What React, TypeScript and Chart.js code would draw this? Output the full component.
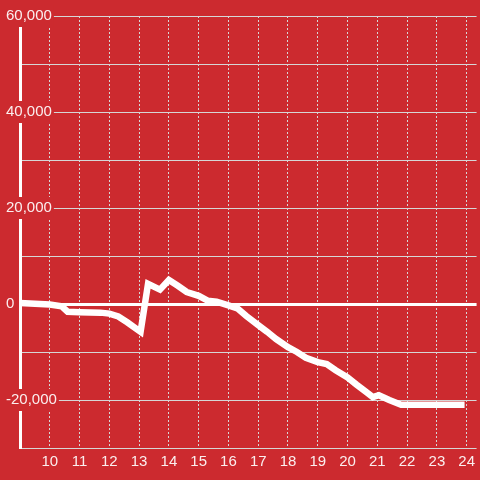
import React, { useEffect, useRef } from "react";
import { Chart, registerables } from "chart.js";

Chart.register(...registerables);

const times = [9.0, 10.0, 10.4, 10.6, 11.0, 11.7, 12.0, 12.3, 12.6, 13.05, 13.3, 13.7, 14.0, 14.3, 14.6, 15.0, 15.3, 15.6, 16.0, 16.3, 16.6, 17.0, 17.3, 17.6, 18.0, 18.3, 18.6, 19.0, 19.3, 19.6, 20.0, 20.3, 20.6, 20.85, 21.05, 21.4, 21.8, 23.93];
const values = [200, -100, -500, -1600, -1700, -1800, -2000, -2600, -3800, -5800, 4200, 3000, 5000, 3800, 2500, 1700, 700, 500, -300, -900, -2500, -4400, -5800, -7300, -9000, -10000, -11200, -12100, -12500, -13800, -15300, -16800, -18200, -19400, -19000, -20000, -21000, -21000];

const xMin = 9;
const xMax = 24.333;
const yMin = -30000;
const yMax = 60000;
const yLabelStep = 20000;

const BG = "#cc2a2f";
const GRID = "#d6d6d6";
const TEXT = "rgba(255,255,255,0.92)";

export default function App() {
  const ref = useRef<HTMLCanvasElement>(null);
  useEffect(() => {
    if (!ref.current) return;
    const chart = new Chart(ref.current, {
      type: "line",
      data: {
        datasets: [
          {
            data: times.map((t, i) => ({ x: t, y: values[i] })),
            borderColor: "#ffffff",
            borderWidth: 6.5,
            pointRadius: 0,
            tension: 0,
            fill: false,
          },
        ],
      },
      options: {
        responsive: false,
        animation: false,
        layout: { padding: { top: 16, left: 0, right: 0, bottom: 0 } },
        plugins: { legend: { display: false }, tooltip: { enabled: false } },
        scales: {
          x: {
            type: "linear",
            position: "bottom",
            min: xMin,
            max: xMax,
            afterFit: (s: any) => {
              s.height = 32;
            },
            border: { display: false, dash: [2, 2] },
            grid: {
              color: GRID,
              lineWidth: 1,
              drawTicks: false,
            },
            ticks: {
              stepSize: 1,
              includeBounds: false,
              autoSkip: false,
              maxRotation: 0,
              padding: 5,
              color: TEXT,
              font: { family: "'Liberation Sans', Arial, sans-serif", size: 15 },
              callback: (v: any) => (v === xMin ? "" : String(v)),
            },
          },
          y: {
            type: "linear",
            position: "left",
            min: yMin,
            max: yMax,
            afterFit: (s: any) => {
              s.width = 20;
            },
            border: { display: true, color: "#ffffff", width: 3 },
            grid: {
              drawTicks: false,
              color: (ctx: any) => (ctx.tick && ctx.tick.value === 0 ? "#ffffff" : GRID),
              lineWidth: (ctx: any) => (ctx.tick && ctx.tick.value === 0 ? 3 : 1),
            },
            ticks: {
              stepSize: 10000,
              mirror: true,
              padding: -14,
              z: 1,
              color: TEXT,
              showLabelBackdrop: true,
              backdropColor: BG,
              backdropPadding: 2,
              font: { family: "'Liberation Sans', Arial, sans-serif", size: 15 },
              callback: (v: any) => (Number(v) % yLabelStep === 0 ? Number(v).toLocaleString("en-US") : ""),
            } as any,
          },
        },
      },
    } as any);
    return () => chart.destroy();
  }, []);
  return (
    <div style={{ position: "fixed", left: 0, top: 0, width: 480, height: 480, background: BG }}>
      <canvas ref={ref} width={480} height={480} style={{ display: "block" }} />
    </div>
  );
}
